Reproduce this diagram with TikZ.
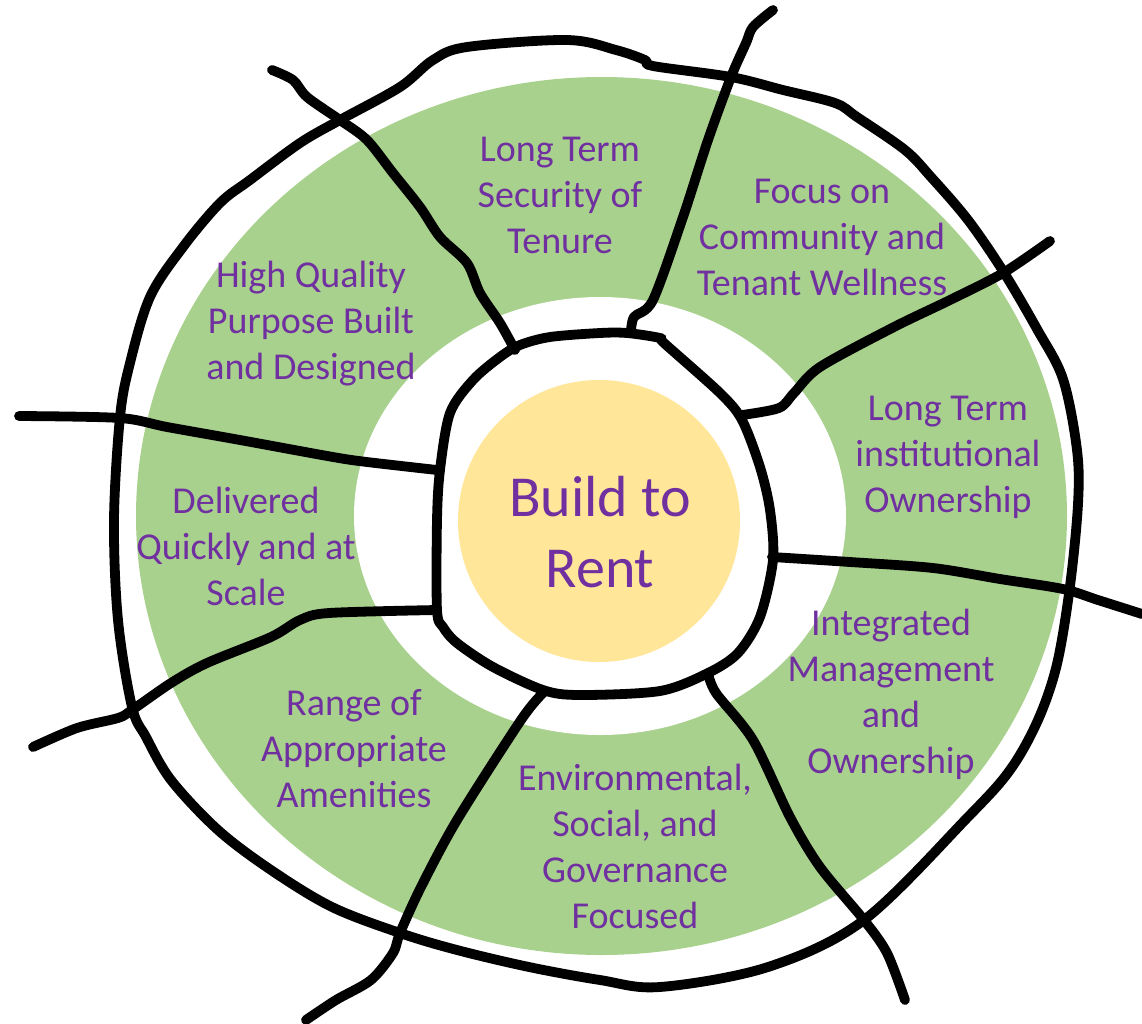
\documentclass[tikz,border=0pt]{standalone}
\usepackage{fontspec}
\setmainfont{Carlito}
\definecolor{ringgreen}{HTML}{A9D18E}
\definecolor{sun}{HTML}{FFE699}
\definecolor{purp}{HTML}{7030A0}
\begin{document}
\begin{tikzpicture}[x=0.5pt,y=-0.5pt,
  ink/.style={line width=4.9pt, line cap=round, line join=round, black},
  pillar/.style={text=purp, font=\fontsize{19}{23}\selectfont, align=center, inner sep=0pt},
  core/.style={text=purp, font=\fontsize{29}{35.5}\selectfont, align=center, inner sep=0pt}]
\useasboundingbox (0,0) rectangle (1142,1024);

% green ring with white inner hole and yellow centre
\fill[ringgreen] (601.5,516) ellipse [x radius=465.5, y radius=439];
\fill[white] (600,516) ellipse [x radius=246, y radius=219];
\fill[sun] (599,521) circle [radius=141];

% hand-drawn outer loop
\draw[ink] plot[smooth cycle, tension=0.55] coordinates {
  (114,520) (120,417) (130,363) (150,297) (183,247) (220,203) (250,180) (300,143)
  (340,120) (400,87) (433,60) (467,47) (567,40) (616,50) (645,60) (653,66) (731,77)
  (783,90) (835,103) (857,117) (905,150) (931,177) (968,220) (1003,271) (1037,329)
  (1063,379) (1077,450) (1078,504) (1070,586) (1057,664) (1038,720) (1010,770)
  (968,817) (864,920) (768,967) (660,987) (600,980) (529,967) (457,950) (400,933)
  (332,907) (271,870) (218,830) (171,780) (146,737) (132,707) (118,620)};

% hand-drawn inner loop around the centre
\draw[ink] plot[smooth cycle, tension=0.5] coordinates {
  (437,520) (440,470) (450,413) (473,380) (500,357) (520,345) (550,337) (600,333)
  (627,333) (660,338) (664,343) (720,393) (742,420) (760,467) (770,510) (773,560)
  (760,617) (738,653) (708,673) (660,691) (579,695) (543,690) (493,667) (457,643)
  (443,627) (437,610)};

% spokes dividing the ring
\draw[ink] plot[smooth, tension=0.5] coordinates {(272,70) (293,80) (307,97) (340,120) (367,140) (393,173) (420,207) (440,237) (467,263) (480,293) (500,323) (515,350)};
\draw[ink] plot[smooth, tension=0.5] coordinates {(773,10) (753,27) (746,43) (731,77) (708,140) (683,217) (653,300) (634,317) (631,333)};
\draw[ink] plot[smooth, tension=0.5] coordinates {(1050,241) (1003,273) (950,300) (894,327) (820,367) (794,393) (779,408) (742,415)};
\draw[ink] plot[smooth, tension=0.5] coordinates {(772,557) (850,562) (933,568) (1000,579) (1063,589) (1098,600) (1142,614)};
\draw[ink] plot[smooth, tension=0.5] coordinates {(708,673) (716,693) (753,740) (790,817) (820,867) (864,920) (887,953) (905,1000)};
\draw[ink] plot[smooth, tension=0.5] coordinates {(543,693) (521,720) (457,820) (421,887) (400,933) (393,953) (371,980) (336,1000) (306,1020)};
\draw[ink] plot[smooth, tension=0.5] coordinates {(437,610) (329,613) (300,620) (271,637) (207,663) (171,683) (132,710) (118,718) (77,728) (33,747)};
\draw[ink] plot[smooth, tension=0.5] coordinates {(19,416) (120,418) (167,427) (240,440) (333,457) (367,462) (437,470)};

% labels
\node[core] (btr) at (600,532) {Build to\\Rent};
\node[pillar] (tenure) at (560,195) {Long Term\\Security of\\Tenure};
\node[pillar] (community) at (822,237) {Focus on\\Community and\\Tenant Wellness};
\node[pillar] (quality) at (311,324) {High Quality\\Purpose Built\\and Designed};
\node[pillar] (institutional) at (948,457) {Long Term\\institutional\\Ownership};
\node[pillar] (delivered) at (246,546) {Delivered\\Quickly and at\\Scale};
\node[pillar] (integrated) at (891,694) {Integrated\\Management\\and\\Ownership};
\node[pillar] (amenities) at (354,749) {Range of\\Appropriate\\Amenities};
\node[pillar] (esg) at (635,846) {Environmental,\\Social, and\\Governance\\Focused};
\end{tikzpicture}
\end{document}
